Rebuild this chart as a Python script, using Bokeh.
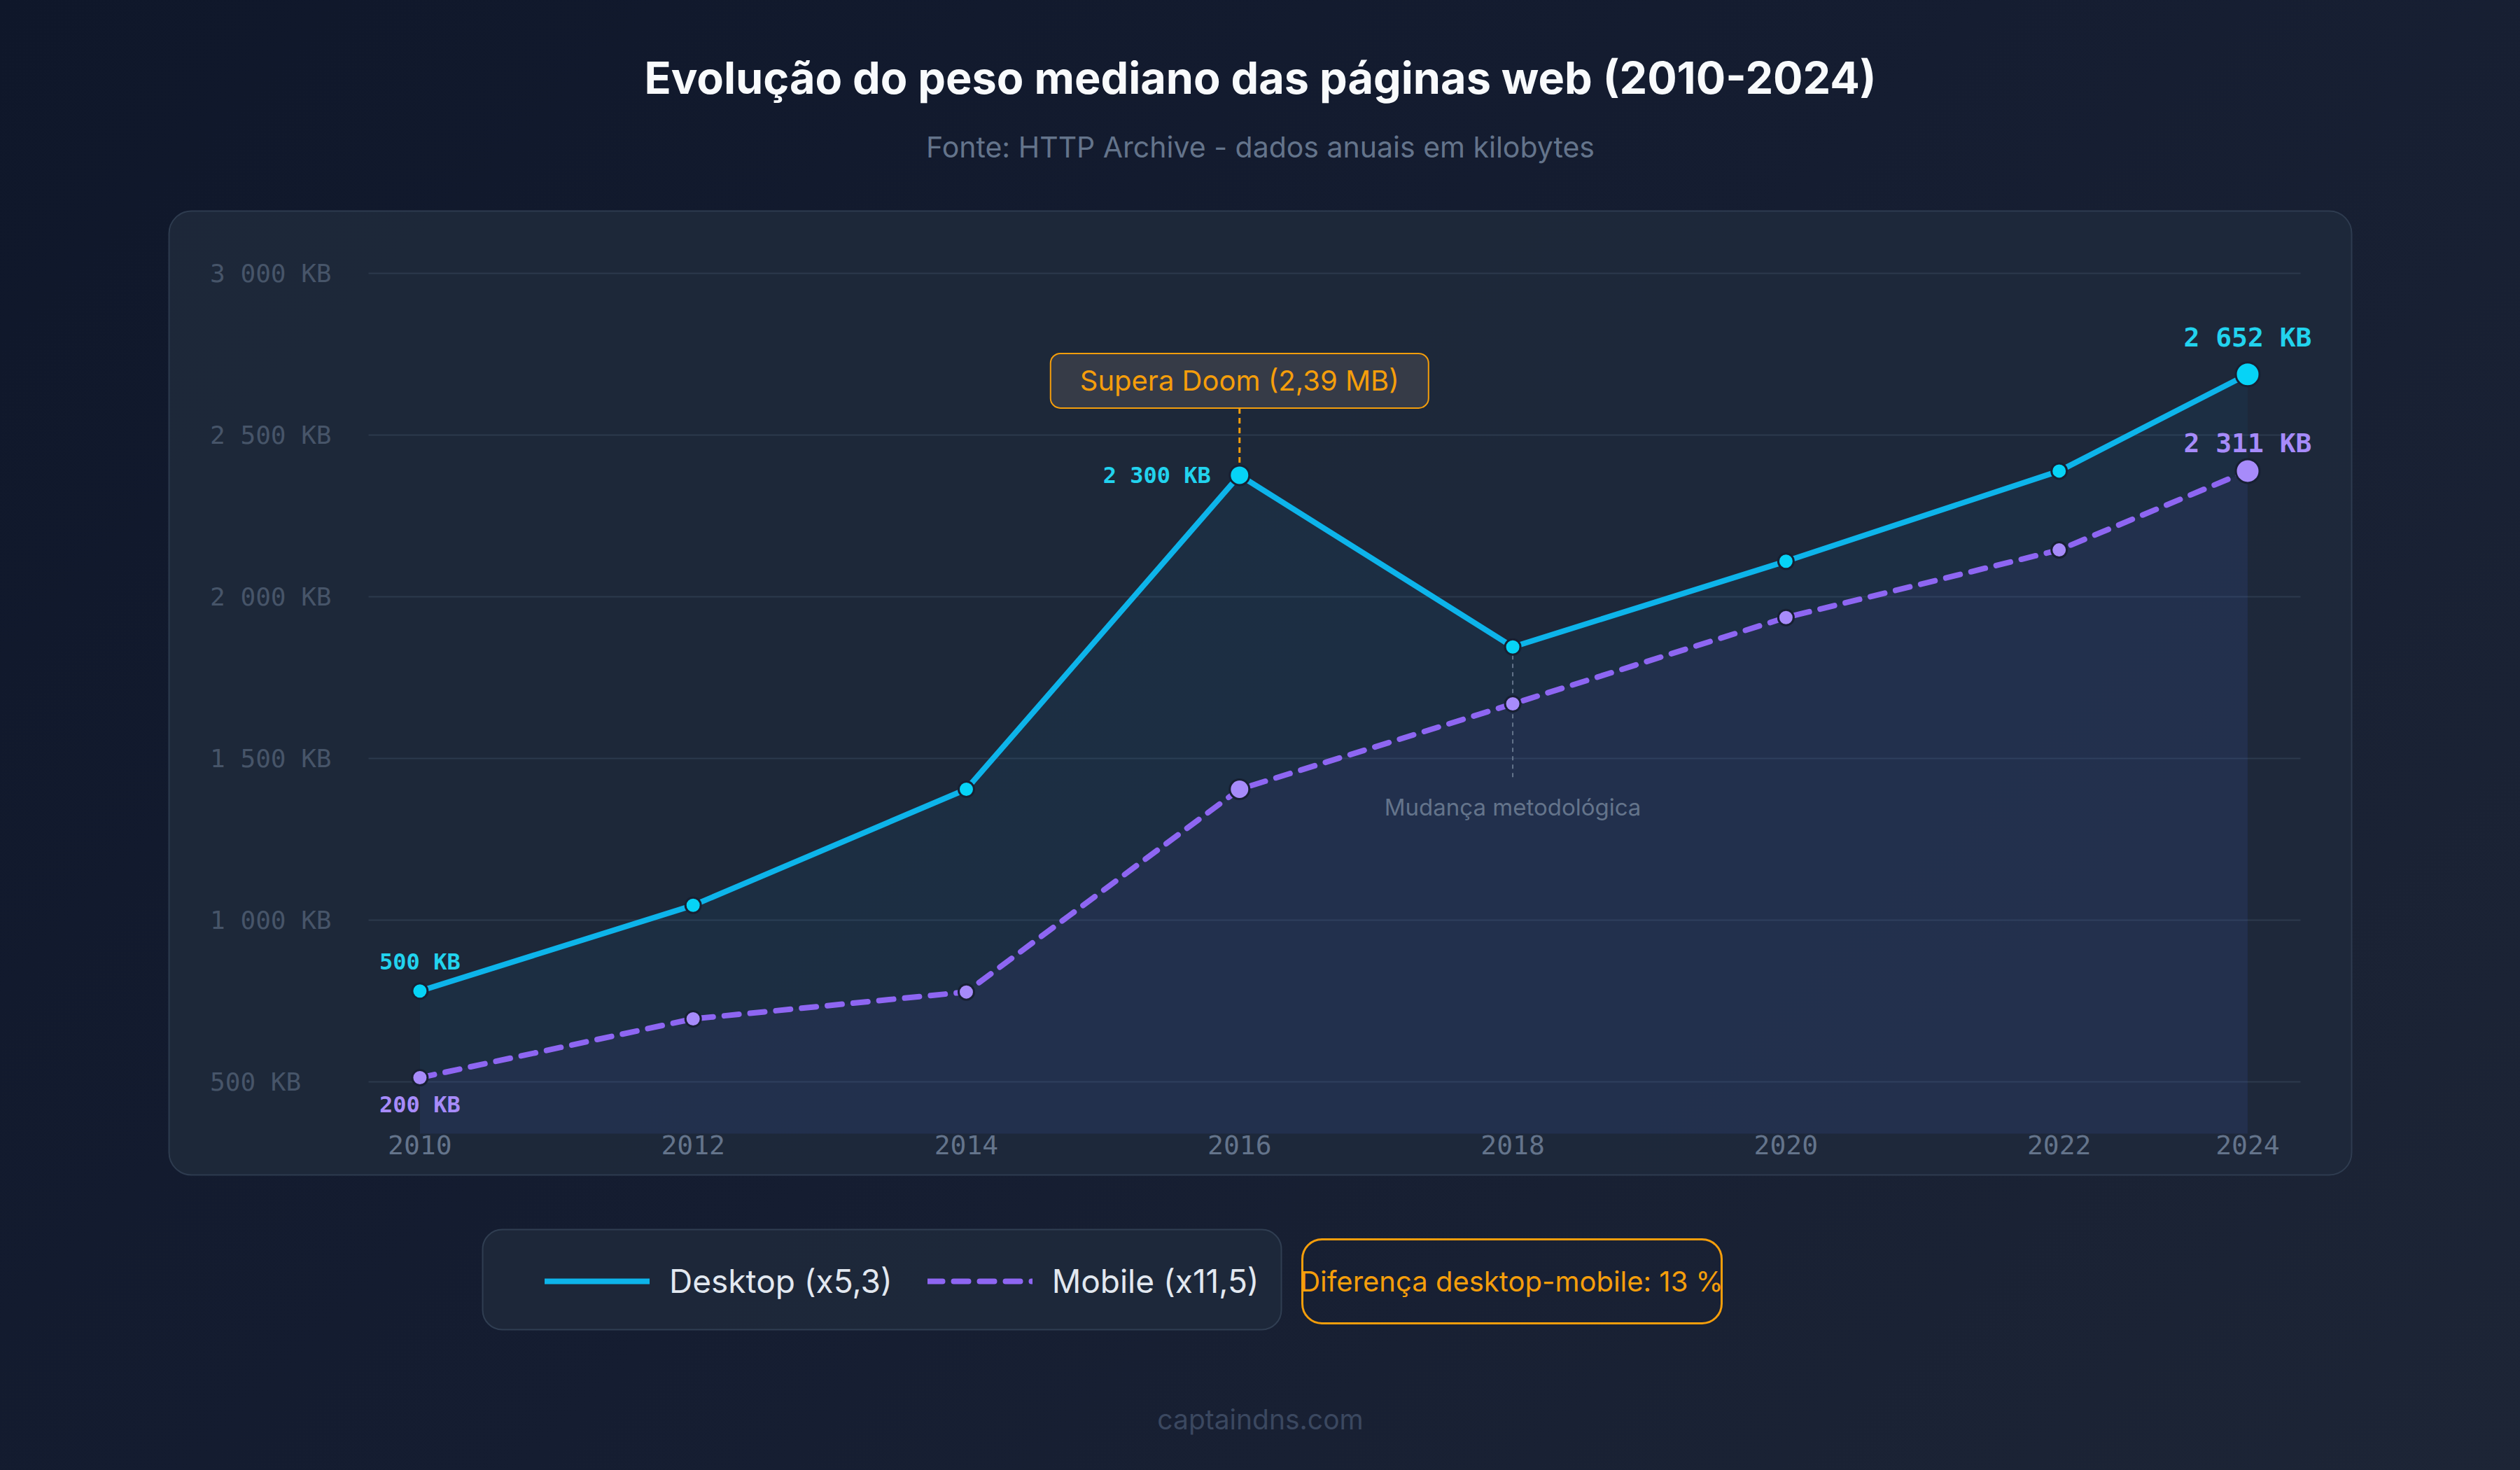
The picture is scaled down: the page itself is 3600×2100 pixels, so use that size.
from bokeh.plotting import figure
from bokeh.models import (Range1d, FixedTicker, CustomJSTickFormatter, BoxAnnotation, Label,
                          Legend, LegendItem, GlobalInlineStyleSheet, LinearAxis, Grid)
from bokeh.embed import file_html
from bokeh.resources import INLINE

# ---------------- data ----------------
years = ["2010", "2012", "2014", "2016", "2018", "2020", "2022", "2024"]
x_pos = [2010, 2012, 2014, 2016, 2018, 2020, 2022, 2023.38]
desktop_kb = [780, 1045, 1404, 2375, 1844, 2109, 2388, 2687]
mobile_kb = [512, 694, 777, 1404, 1668, 1935, 2144, 2388]
y_ticks = [500, 1000, 1500, 2000, 2500, 3000]
desktop_point_labels = {0: "500 KB", 3: "2 300 KB", 7: "2 652 KB"}
mobile_point_labels = {0: "200 KB", 7: "2 311 KB"}
series_names = ["Desktop (x5,3)", "Mobile (x11,5)"]
title_text = "Evolução do peso mediano das páginas web (2010-2024)"
subtitle_text = "Fonte: HTTP Archive - dados anuais em kilobytes"
callout_text = "Supera Doom (2,39 MB)"
callout_idx = 3
note_text = "Mudança metodológica"
note_idx = 4
gap_text = "Diferença desktop-mobile: 13 %"
footer_text = "captaindns.com"
highlight_idx = [3, 7]

# ---------------- layout (canvas pixels -> data) ----------------
W, H = 3600, 2100
PL, PR, PT, PB = 526, 3286, 343, 1619      # plotting area inside the card
X0, X1 = 2009.624, 2023.767
Y0, Y1 = 339, 3101
ppx = (PR - PL) / (X1 - X0)
ppy = (PB - PT) / (Y1 - Y0)


def dx(px):
    return X0 + (px - PL) / ppx


def dy(py):
    return Y0 + (PB - py) / ppy


CYAN_LINE = "#0db4ea"
CYAN_PT = "#06d3f6"
CYAN_TXT = "#22d3ee"
VIOLET_LINE = "#8e66f2"
VIOLET_PT = "#a78bfa"
AMBER = "#f59e0b"
MONO = "DejaVu Sans Mono"
SANS = "Inter"

css = GlobalInlineStyleSheet(css="html{min-height:100%;background:linear-gradient(135deg,#0f172a 0%,#151d31 50%,#1d2536 100%);} body{background:transparent;}")

p = figure(width=W, height=H, x_range=Range1d(dx(0), dx(W)), y_range=Range1d(dy(H), dy(0)),
           output_backend="svg", toolbar_location=None, x_axis_type=None, y_axis_type=None,
           min_border=0, background_fill_alpha=0, border_fill_alpha=0, outline_line_alpha=0)
p.title.visible = False
p.stylesheets = [css]

# card panel
p.add_layout(BoxAnnotation(left=dx(241), right=dx(3359), top=dy(301), bottom=dy(1678),
                           fill_color="#1e293b", fill_alpha=0.92, line_color="#334155", line_alpha=0.85,
                           line_width=2, border_radius=32, level="image"))

# axes placed inside the card
yaxis = LinearAxis(fixed_location=X0, ticker=FixedTicker(ticks=y_ticks))
yaxis.major_label_overrides = {
    v: (f"{v:,}".replace(",", "\u00a0") + "\u00a0KB").ljust(8, "\u00a0") for v in y_ticks
}
yaxis.major_label_text_font = MONO
yaxis.major_label_text_font_size = "36px"
yaxis.major_label_text_color = "#475569"
yaxis.major_label_standoff = 53
xaxis = LinearAxis(fixed_location=Y0, ticker=FixedTicker(ticks=x_pos))
xaxis.formatter = CustomJSTickFormatter(args=dict(pos=x_pos, labels=years), code="""
let best = 0;
for (let i = 0; i < pos.length; i++) { if (Math.abs(pos[i] - tick) < Math.abs(pos[best] - tick)) best = i; }
return labels[best];
""")
xaxis.major_label_text_font = MONO
xaxis.major_label_text_font_size = "38px"
xaxis.major_label_text_color = "#64748b"
xaxis.major_label_standoff = 2
for ax in (xaxis, yaxis):
    ax.axis_line_alpha = 0
    ax.major_tick_line_alpha = 0
    ax.minor_tick_line_alpha = 0
    ax.major_tick_out = 0
    ax.major_tick_in = 0
p.add_layout(yaxis, "left")
p.add_layout(xaxis, "below")

ygrid = Grid(dimension=1, ticker=yaxis.ticker, cross_bounds=(X0, X1),
             grid_line_color="#334155", grid_line_alpha=0.7, grid_line_width=2)
p.add_layout(ygrid)

# areas
p.varea(x=x_pos, y1=Y0, y2=desktop_kb, fill_color="#0ea5e9", fill_alpha=0.055)
p.varea(x=x_pos, y1=Y0, y2=mobile_kb, fill_color="#8b5cf6", fill_alpha=0.06)

# annotation connectors
cx = x_pos[callout_idx]
cy = desktop_kb[callout_idx]
p.segment(x0=[cx], y0=[cy + 18 / ppy], x1=[cx], y1=[cy + 96 / ppy],
          line_color=AMBER, line_width=3, line_dash="8 6")
nx = x_pos[note_idx]
ny = desktop_kb[note_idx]
p.segment(x0=[nx], y0=[ny - 12 / ppy], x1=[nx], y1=[ny - 186 / ppy],
          line_color="#64748b", line_width=2, line_dash="6 6")

# lines
mob_line = p.line(x_pos, mobile_kb, line_color=VIOLET_LINE, line_width=8, line_dash="21 16",
                  line_cap="round", line_join="round")
desk_line = p.line(x_pos, desktop_kb, line_color=CYAN_LINE, line_width=8,
                   line_cap="round", line_join="round")

# markers
sizes = [34 if i == 7 else 28 if i in highlight_idx else 22 for i in range(len(x_pos))]
p.scatter(x_pos, mobile_kb, size=sizes, fill_color=VIOLET_PT, line_color="#172033", line_width=3)
p.scatter(x_pos, desktop_kb, size=sizes, fill_color=CYAN_PT, line_color="#172033", line_width=3)


def point_label(i, series, text, color, size, xo=0, yo=0, align="center"):
    p.add_layout(Label(x=x_pos[i], y=series[i], x_offset=xo, y_offset=yo, text=text,
                       text_align=align, text_baseline="middle", text_font=MONO,
                       text_font_style="bold", text_font_size=size, text_color=color))


point_label(0, desktop_kb, desktop_point_labels[0], CYAN_TXT, "32px", yo=42)
point_label(3, desktop_kb, desktop_point_labels[3], CYAN_TXT, "32px", xo=-41, align="right")
point_label(7, desktop_kb, desktop_point_labels[7], CYAN_TXT, "38px", yo=53)
point_label(0, mobile_kb, mobile_point_labels[0], VIOLET_PT, "32px", yo=-38)
point_label(7, mobile_kb, mobile_point_labels[7], VIOLET_PT, "38px", yo=40)

# callout box
p.add_layout(BoxAnnotation(left=cx - 270 / ppx, right=cx + 270 / ppx,
                           top=cy + 174 / ppy, bottom=cy + 96 / ppy,
                           fill_color="#363b47", fill_alpha=1, line_color=AMBER, line_alpha=1,
                           line_width=2, border_radius=14))
p.add_layout(Label(x=cx, y=cy, y_offset=135, text=callout_text, text_align="center",
                   text_baseline="middle", text_font=SANS, text_font_size="40px", text_color=AMBER))
p.add_layout(Label(x=nx, y=ny, y_offset=-229, text=note_text, text_align="center",
                   text_baseline="middle", text_font=SANS, text_font_size="33px", text_color="#64748b"))

# titles
p.add_layout(Label(x=dx(1800), y=dy(110), text=title_text, text_align="center", text_baseline="middle",
                   text_font=SANS, text_font_style="bold", text_font_size="63px", text_color="#f8fafc"))
p.add_layout(Label(x=dx(1800), y=dy(209), text=subtitle_text, text_align="center", text_baseline="middle",
                   text_font=SANS, text_font_size="41px", text_color="#64748b"))

# legend box + legend
p.add_layout(BoxAnnotation(left=dx(689), right=dx(1830), top=dy(1756), bottom=dy(1899),
                           fill_color="#1e293b", fill_alpha=0.9, line_color="#334155", line_alpha=0.9,
                           line_width=2, border_radius=28, level="underlay"))
legend = Legend(items=[LegendItem(label=series_names[0], renderers=[desk_line]),
                       LegendItem(label=series_names[1], renderers=[mob_line])],
                orientation="horizontal", location=(778, H - 1858),
                glyph_width=150, glyph_height=50, label_height=50, label_standoff=28, spacing=50,
                padding=0, margin=0, background_fill_alpha=0, border_line_alpha=0,
                label_text_font=SANS, label_text_font_size="46px", label_text_color="#e2e8f0")
p.add_layout(legend)

# gap badge
p.add_layout(BoxAnnotation(left=dx(1860), right=dx(2459), top=dy(1770), bottom=dy(1890),
                           fill_alpha=0, line_color=AMBER, line_alpha=1, line_width=3,
                           border_radius=28, level="underlay"))
p.add_layout(Label(x=dx(2159), y=dy(1830), text=gap_text, text_align="center", text_baseline="middle",
                   text_font=SANS, text_font_size="40px", text_color=AMBER))

# footer
p.add_layout(Label(x=dx(1800), y=dy(2027), text=footer_text, text_align="center", text_baseline="middle",
                   text_font=SANS, text_font_size="39px", text_color="#3b4860"))

open("out.html", "w").write(file_html(p, INLINE))
